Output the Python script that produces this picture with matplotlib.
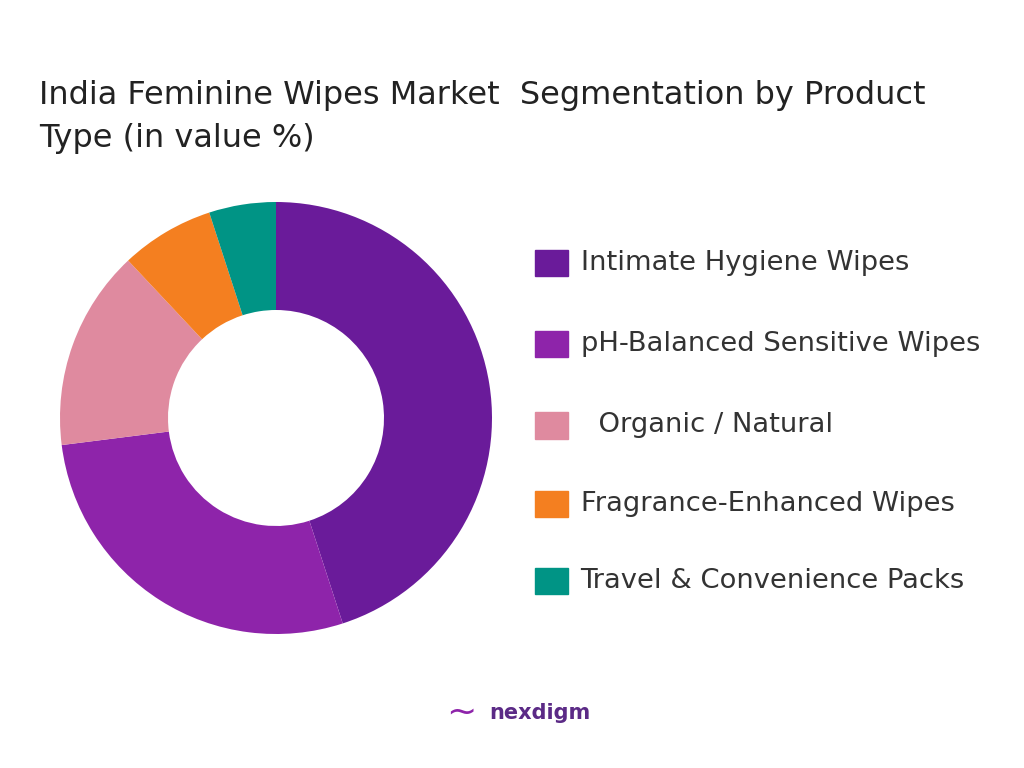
import matplotlib
matplotlib.use("Agg")
import matplotlib.pyplot as plt
from matplotlib.patches import Rectangle

labels = ["Intimate Hygiene Wipes", "pH-Balanced Sensitive Wipes", "  Organic / Natural",
          "Fragrance-Enhanced Wipes", "Travel & Convenience Packs"]
values = [45, 28, 15, 7, 5]
colors = ["#6A1B9A", "#8E24AA", "#DF8A9F", "#F47F20", "#009485"]

plt.rcParams['font.family'] = ['DejaVu Sans']
fig = plt.figure(figsize=(10.24, 7.68), dpi=100)
fig.text(0.038, 0.848, "India Feminine Wipes Market  Segmentation by Product\nType (in value %)",
         fontsize=23, color="#222222", va="center", linespacing=1.5)

ax = fig.add_axes([60/1024, 1 - 634/768, 432/1024, 432/768])
ax.pie(values, colors=colors, startangle=90, counterclock=False,
       wedgeprops=dict(width=0.5, linewidth=0))
ax.set_xlim(-1, 1); ax.set_ylim(-1, 1)
ax.set_aspect("equal")

ys = [0.657, 0.552, 0.446, 0.344, 0.243]
for lab, c, y in zip(labels, colors, ys):
    fig.patches.append(Rectangle((0.522, y - 0.017), 0.033, 0.034, color=c, transform=fig.transFigure))
    fig.text(0.567, y, lab, fontsize=19.7, color="#333333", va="center")

fig.text(0.478, 0.072, "nexdigm", fontsize=15, color="#5B2A86", fontweight="bold", va="center")
fig.text(0.436, 0.072, "~", fontsize=26, color="#8E24AA", va="center")
fig.savefig("out.png")
